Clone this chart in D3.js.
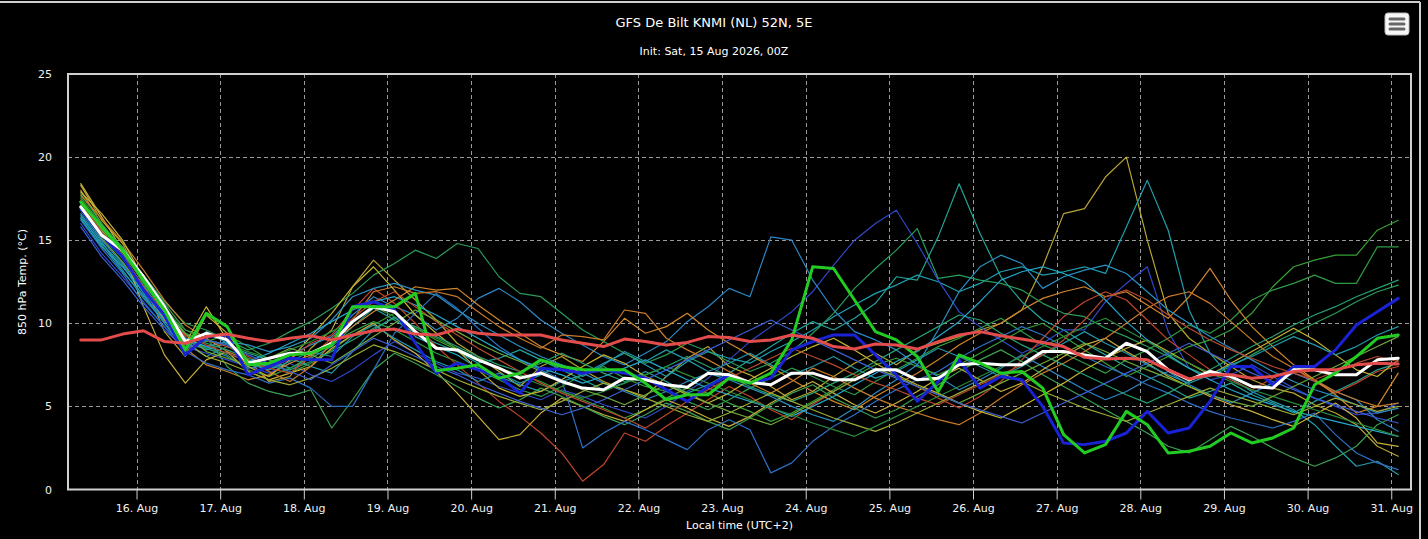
<!DOCTYPE html>
<html>
<head>
<meta charset="utf-8">
<script src="https://cdn.jsdelivr.net/npm/d3@7"></script>
<style>
  html, body { margin: 0; padding: 0; background: #000; }
  svg { display: block; font-family: "DejaVu Sans", Verdana, sans-serif; }
</style>
</head>
<body>
<div id="chart"></div>
<script>
"use strict";

// forecast steps: +6h .. +384h every 6h from 15 Aug 00Z (local = UTC+2)
var initLocal = Date.UTC(2026, 7, 15, 2);
var startHour = 6;
var stepHours = 6;
var yTicks = [0, 5, 10, 15, 20, 25];

var titleText = "GFS De Bilt KNMI (NL) 52N, 5E";
var subtitleText = "Init: Sat, 15 Aug 2026, 00Z";
var yTitle = "850 hPa Temp. (°C)";
var xTitle = "Local time (UTC+2)";

// ensemble mean (white)
var mean = [17.0,15.3,14.4,12.8,11.0,8.9,9.4,9.0, 7.6,7.9,8.2,8.2,8.8,10.1,11.0,10.7,
  9.5,8.5,8.4,7.8,7.3,6.7,7.0,6.5, 6.1,6.0,6.7,6.6,6.3,6.15,7.0,6.9,
  6.45,6.3,7.0,7.0,6.6,6.6,7.2,7.2, 6.6,6.7,7.5,7.6,7.5,7.5,8.3,8.3,
  8.1,7.9,8.8,8.3,7.2,6.6,7.1,6.8, 6.2,6.1,7.2,7.2,6.9,6.9,7.8,7.9];

// control run (blue)
var control = [16.9,15.3,14.0,12.0,10.5,8.1,9.2,9.3, 6.9,7.4,7.9,7.8,7.8,11.0,11.3,10.8,
  8.8,7.0,7.6,7.2,6.8,5.8,7.3,7.2, 7.0,7.2,7.0,6.7,6.0,5.3,6.2,6.9,
  6.4,6.7,8.4,8.9,9.3,9.3,8.1,6.9, 5.3,6.5,7.8,6.1,6.8,6.6,5.0,2.8,
  2.7,2.9,3.4,4.7,3.4,3.7,5.3,7.4, 7.4,6.3,7.4,7.4,8.4,9.9,10.7,11.5];

// operational run (green)
var operational = [17.3,15.8,14.4,12.6,10.8,8.4,10.6,9.8, 7.5,7.6,8.1,8.2,8.7,11.0,11.0,11.0,
  11.8,7.15,7.3,7.5,6.7,7.0,7.8,7.4, 7.2,7.2,7.2,6.4,5.4,5.7,5.7,6.7,
  6.4,7.0,9.0,13.4,13.3,11.4,9.5,9.0, 8.0,5.9,8.1,7.6,7.0,7.1,6.1,3.3,
  2.2,2.7,4.7,3.9,2.2,2.3,2.6,3.4, 2.8,3.1,3.7,6.3,7.0,8.0,9.1,9.3];

// climatology (red)
var climate = [9.0,9.0,9.35,9.55,8.9,8.8,9.2,9.35, 9.1,8.9,9.1,9.25,9.0,9.3,9.55,9.65,
  9.35,9.3,9.65,9.4,9.3,9.3,9.3,9.0, 8.8,8.6,9.05,8.9,8.7,8.85,9.2,9.15,
  8.9,9.0,9.3,9.1,8.6,8.45,8.75,8.7, 8.45,8.9,9.3,9.5,9.25,9.05,8.85,8.6,
  7.95,7.85,7.9,7.8,7.2,6.65,6.9,6.9, 6.7,6.8,7.1,7.2,7.2,7.5,7.6,7.55];

// perturbed members (thin lines)
var members = [
  [18.3,16.2,14.8,12.5,9.5,8.0,10.5,9.4, 7.8,6.5,6.8,8.5,9.6,12.2,13.8,12.6,
   11.4,10.2,8.8,8.0,7.1,6.2,7.4,8.0, 7.2,6.5,6.0,5.6,6.8,7.9,8.6,7.4,
   6.9,6.2,5.4,5.9,6.8,7.6,8.2,7.5, 8.4,8.8,9.2,9.6,10.0,10.8,13.4,16.6,
   16.9,18.8,20.0,15.0,10.6,9.1,8.2,7.4, 6.6,6.1,5.8,5.1,4.6,3.9,2.6,2.0],
  [17.0,15.4,14.0,12.2,10.6,9.0,8.4,8.8, 7.6,7.2,7.9,7.4,7.0,8.3,9.6,10.4,
   9.2,8.6,8.1,7.3,6.8,6.3,5.9,6.5, 6.9,7.6,8.2,7.5,6.8,7.7,8.3,7.9,
   7.6,8.3,8.9,9.6,10.4,11.1,11.8,12.3, 12.9,12.5,11.9,12.4,13.1,13.4,12.9,13.1,
   13.4,13.0,15.8,18.6,15.6,10.8,8.2,6.7, 5.9,5.3,4.8,3.9,2.6,1.4,1.7,0.9],
  [16.4,14.8,13.5,11.6,10.2,8.8,8.0,8.6, 8.2,7.8,7.3,7.9,8.6,9.8,10.9,10.2,
   9.4,8.8,8.3,7.6,7.9,8.4,7.8,7.2, 6.6,6.0,6.4,7.1,6.5,5.8,6.3,7.0,
   7.8,8.6,9.4,10.1,9.6,10.3,11.2,12.8, 12.6,15.2,18.4,15.4,12.8,11.3,10.2,9.6,
   8.8,8.1,7.4,6.8,6.2,5.5,5.9,6.4, 5.7,5.2,4.6,5.3,5.9,6.5,7.2,7.6],
  [16.0,14.2,12.8,11.3,9.8,8.6,8.2,7.8, 7.4,7.0,7.6,6.9,6.5,7.2,8.1,8.9,
   8.2,7.6,7.0,6.7,6.2,5.8,5.4,6.0, 5.6,5.1,4.7,4.3,5.0,5.9,6.7,7.8,
   8.9,9.8,10.7,11.9,13.5,15.0,16.0,16.8, 14.8,12.6,10.7,9.8,9.0,8.2,8.8,9.6,
   9.6,11.3,12.4,13.4,9.5,7.3,6.6,6.9, 7.5,6.8,6.1,5.5,5.0,4.5,4.6,5.2],
  [16.8,15.0,13.6,11.8,10.0,8.7,8.5,8.0, 7.3,7.5,8.1,8.7,9.2,10.5,11.6,11.0,
   10.5,9.6,10.3,11.5,12.1,11.3,10.2,9.4, 8.7,8.0,7.5,8.2,8.9,10.1,11.0,12.1,
   11.6,15.2,15.0,12.6,10.8,9.5,9.0,8.4, 7.5,6.8,6.0,6.6,7.3,8.1,7.4,6.7,
   6.0,5.4,5.9,6.6,7.1,6.3,5.7,5.2, 5.8,6.4,7.0,6.5,5.9,5.4,4.2,3.5],
  [17.6,15.9,14.3,12.4,11.0,9.4,8.9,9.3, 8.6,7.8,7.0,7.6,8.4,9.3,9.9,10.6,
   9.7,9.0,8.4,7.8,7.3,6.9,6.5,5.9, 5.4,4.9,4.3,4.8,5.5,6.1,5.8,5.2,
   4.7,4.1,4.6,5.3,6.0,6.8,7.5,7.9, 7.4,6.9,7.5,8.2,8.9,9.6,10.0,9.2,
   8.4,7.6,6.8,7.4,8.0,8.6,9.0,9.6, 10.6,12.2,13.4,13.8,14.1,14.1,15.6,16.2],
  [17.0,15.5,14.1,12.0,10.3,9.1,8.5,8.1, 7.2,6.8,7.3,8.0,8.8,9.5,10.1,9.6,
   8.9,8.2,7.7,7.2,6.6,6.0,5.6,6.2, 6.9,7.4,6.7,6.2,5.9,5.3,4.8,5.4,
   6.1,6.7,7.3,6.8,6.2,5.7,6.5,7.2, 7.9,8.6,9.1,9.7,10.3,9.5,8.7,8.2,
   7.6,7.0,7.8,8.4,9.1,9.9,9.4,10.2, 11.4,12.0,12.4,12.9,12.4,12.4,14.6,14.6],
  [17.4,15.6,14.6,12.6,10.4,9.2,9.0,8.6, 8.0,7.4,7.8,8.8,9.3,10.8,12.1,11.2,
   10.0,8.6,7.5,6.4,5.3,4.4,3.4,2.2, 0.5,1.5,3.4,2.9,3.8,4.6,5.4,6.2,
   5.6,4.8,4.2,5.1,5.9,6.6,7.3,6.8, 6.2,5.5,4.9,5.6,6.5,7.8,9.1,10.4,
   11.3,11.9,11.4,10.2,9.0,8.1,7.2,6.6, 6.0,6.7,7.3,6.5,5.8,6.4,7.1,7.4],
  [18.0,16.0,14.2,12.0,10.2,8.5,7.5,7.1, 6.6,6.9,7.6,8.1,8.9,9.8,10.7,11.4,
   12.2,12.0,12.1,11.1,10.2,9.4,8.6,8.1, 7.7,8.9,10.3,9.4,9.8,10.6,9.6,8.8,
   8.1,7.4,6.6,5.9,5.3,4.8,5.6,6.3, 7.0,7.8,8.7,9.4,10.0,10.8,11.5,11.9,
   12.2,11.6,11.9,11.1,10.3,11.6,13.3,11.4, 9.8,8.6,7.5,6.6,5.7,4.6,5.0,7.0],
  [18.4,16.4,14.4,11.0,8.1,6.4,7.8,8.3, 7.1,6.6,7.0,7.4,8.5,9.3,10.0,9.0,
   8.2,7.1,5.8,4.4,3.0,3.3,4.6,5.5, 5.0,4.5,4.1,4.8,5.4,4.9,4.3,3.8,
   4.4,5.2,5.9,6.5,5.8,5.1,4.6,5.2, 5.9,6.7,7.3,6.6,5.9,6.4,7.2,8.0,
   8.7,9.1,8.3,7.6,6.8,6.2,5.6,5.1, 4.7,4.2,3.8,4.5,5.2,4.3,2.8,2.6],
  [17.2,15.8,14.6,12.8,11.2,9.6,9.2,7.4, 6.4,5.9,5.6,6.0,3.7,5.4,7.2,8.2,
   7.6,6.9,6.2,5.5,4.9,5.4,6.1,5.6, 5.0,4.4,3.9,4.5,5.2,4.7,4.1,3.6,
   4.3,5.1,5.8,6.3,5.5,4.9,4.3,4.8, 5.6,6.3,7.1,7.8,8.4,7.7,6.9,6.2,
   5.5,4.8,4.1,3.4,2.6,2.2,3.0,3.8, 3.2,2.5,1.9,1.4,1.9,2.6,3.9,4.5],
  [17.8,16.0,14.5,12.9,11.3,10.0,9.6,9.0, 8.4,8.8,9.5,10.1,10.9,11.8,12.9,13.6,
   14.4,13.9,14.8,14.5,12.8,11.8,11.6,10.6, 9.6,8.9,8.2,7.6,8.1,8.8,8.3,7.7,
   7.1,7.6,8.3,9.4,10.6,12.1,13.3,14.4, 15.7,12.7,12.9,12.6,12.4,12.0,11.2,10.6,
   10.4,9.7,9.2,8.6,8.0,7.3,6.8,7.4, 8.1,8.8,9.4,10.0,10.6,11.3,11.9,12.3],
  [16.2,14.5,13.0,11.2,9.8,8.3,7.6,7.2, 6.9,6.4,6.7,6.1,5.0,5.0,7.2,9.4,
   10.6,11.8,10.9,9.7,8.6,7.8,7.2,6.6, 2.5,3.4,4.1,3.6,3.0,2.4,3.6,4.2,
   3.6,1.0,1.6,2.9,3.8,4.5,5.3,6.0, 6.6,7.1,7.9,8.6,9.2,9.8,9.3,8.6,
   8.0,7.4,6.9,6.3,5.8,5.2,4.7,4.3, 4.0,3.7,4.1,4.6,3.3,2.2,1.6,1.2],
  [16.6,14.9,13.2,11.5,10.1,9.0,8.6,8.9, 8.7,8.3,8.6,9.1,10.2,11.6,12.1,12.4,
   12.0,11.7,10.8,10.0,9.3,8.6,8.0,7.5, 7.0,6.4,5.9,5.4,5.9,6.5,7.0,6.6,
   6.1,5.6,5.0,4.5,4.1,4.9,5.8,6.6, 7.5,9.6,11.9,13.4,14.1,13.6,12.1,12.8,
   13.2,13.5,13.0,11.9,10.8,10.0,9.2,8.5, 7.8,7.1,6.5,6.0,5.6,5.1,4.6,4.9],
  [17.7,16.3,14.9,13.2,11.4,9.9,9.1,8.3, 7.8,7.1,6.5,7.4,8.8,10.2,11.9,12.2,
   11.8,11.9,11.6,10.7,9.8,9.1,8.5,9.3, 9.2,9.0,10.8,10.6,9.1,8.4,7.8,7.1,
   6.4,5.8,6.5,7.3,6.8,6.1,5.5,5.0, 4.6,4.2,3.9,4.6,5.5,6.3,7.0,7.6,
   8.3,9.1,10.0,10.9,11.6,11.9,11.2,10.1, 9.0,8.0,7.3,6.6,5.9,5.4,5.0,5.2],
  [17.9,16.6,15.0,12.7,10.6,8.8,11.0,9.0, 7.4,6.8,7.8,9.2,10.6,12.2,13.4,12.0,
   10.5,9.4,8.4,7.2,6.1,5.6,5.9,6.6, 7.4,8.1,7.6,6.8,6.3,5.7,5.2,5.8,
   6.6,7.3,8.0,8.6,9.1,8.4,7.6,6.9, 6.3,5.8,5.2,4.7,4.3,5.0,5.7,6.4,
   7.2,7.9,8.5,9.0,8.3,7.6,6.9,7.6, 8.3,9.0,9.7,9.0,8.1,7.2,6.8,7.8],
  [16.9,15.2,13.9,12.3,10.9,9.3,8.8,8.4, 7.9,7.4,7.2,7.7,8.3,9.0,9.7,10.3,
   9.8,9.2,8.6,8.0,7.5,7.1,7.6,8.2, 7.6,7.0,6.5,6.9,7.4,8.0,7.4,6.8,
   6.2,5.7,5.3,5.8,6.4,7.0,7.7,8.4, 9.1,9.8,10.5,10.2,9.4,8.7,8.1,7.5,
   6.9,6.3,5.7,5.2,5.8,6.5,7.2,7.9, 8.6,9.2,9.9,10.5,11.0,11.6,12.1,12.6],
  [16.3,14.6,13.4,11.9,10.3,9.1,8.6,8.2, 7.7,8.2,8.8,9.4,10.1,10.8,11.3,11.6,
   11.1,10.5,9.8,9.1,8.4,7.8,7.3,6.9, 6.4,6.8,7.3,7.8,7.2,6.6,6.1,5.7,
   5.3,4.9,4.4,5.0,5.6,6.3,7.0,7.7, 8.3,9.2,10.1,11.3,12.6,13.1,13.4,13.0,
   12.5,11.4,10.1,9.0,8.1,7.3,6.6,6.0, 5.5,5.1,4.7,4.4,4.1,3.8,3.5,3.2],
  [17.1,15.6,14.0,12.1,10.5,8.9,8.0,7.6, 7.1,6.6,6.3,6.7,7.3,8.0,8.7,8.3,
   7.8,7.2,6.6,6.1,5.6,5.2,4.8,5.3, 5.9,6.4,6.0,5.5,5.0,4.5,4.1,4.6,
   5.2,5.8,5.3,4.8,4.3,3.9,3.5,4.0, 4.6,5.2,5.8,6.4,7.0,6.5,5.9,5.4,
   4.9,4.5,4.1,4.6,5.1,5.6,6.1,5.7, 5.3,4.9,4.5,5.0,5.5,5.1,4.7,5.0],
  [17.5,15.7,14.2,12.5,10.8,9.6,9.0,8.7, 8.3,7.9,8.4,8.9,9.5,10.2,11.0,10.4,
   9.7,9.1,8.5,7.9,7.3,6.8,6.3,5.9, 5.5,5.9,6.4,6.9,7.4,6.9,6.4,5.9,
   5.4,4.9,4.5,4.0,3.6,3.2,3.8,4.4, 5.0,5.6,6.2,6.8,7.4,8.0,8.6,9.2,
   9.8,10.3,9.6,8.9,8.2,7.6,7.0,6.5, 6.0,5.6,5.2,4.8,4.4,4.0,3.6,3.2],
  [16.5,14.7,13.1,11.7,10.0,8.4,9.5,8.8, 7.6,7.2,7.7,8.3,8.0,9.2,9.9,9.1,
   8.4,7.7,7.2,6.5,7.0,6.4,6.9,7.5, 6.8,7.5,8.3,7.7,8.4,7.8,7.1,7.6,
   8.2,7.5,6.9,7.4,8.0,7.3,6.7,7.1, 7.8,8.5,8.0,7.4,6.8,7.4,8.1,8.8,
   9.5,8.8,8.2,7.5,6.9,6.4,6.9,7.5, 8.0,8.6,9.2,8.7,8.1,8.6,9.3,9.8],
  [17.3,15.5,14.1,12.2,10.4,9.3,8.7,8.2, 7.7,7.3,7.0,8.0,9.1,10.3,11.3,11.9,
   11.0,10.1,9.3,8.5,7.8,7.1,6.4,5.8, 5.3,4.8,4.3,3.7,4.5,5.3,6.0,6.7,
   7.3,7.9,8.5,8.0,7.5,6.9,6.4,6.0, 5.5,5.1,5.7,6.3,6.9,7.5,8.1,9.0,
   10.2,11.6,12.0,11.4,10.5,9.7,9.0,8.4, 7.9,7.4,7.0,6.6,7.1,7.6,8.0,7.7],
  [17.0,15.1,13.7,12.0,10.7,9.4,8.3,7.9, 7.5,7.9,8.5,8.1,7.6,8.4,9.2,10.0,
   10.8,10.2,9.5,8.8,8.2,7.7,7.1,6.5, 6.0,5.6,5.1,5.7,6.3,5.8,5.2,4.7,
   4.3,3.9,4.5,5.2,5.9,6.6,7.3,6.8, 6.2,5.7,5.2,5.8,6.4,7.0,7.6,8.2,
   8.8,8.3,7.7,7.2,6.7,6.2,5.7,5.3, 5.0,5.6,6.2,6.8,7.4,8.0,8.6,9.2],
  [15.8,14.0,12.6,11.0,9.6,8.5,9.0,8.7, 8.1,7.6,7.1,6.6,7.5,8.3,9.1,8.6,
   8.0,7.4,6.9,6.3,5.8,5.3,4.9,4.5, 4.9,5.4,6.0,6.6,7.2,7.8,8.4,9.0,
   9.6,10.2,9.6,9.0,8.4,7.8,7.2,6.7, 6.2,5.7,5.2,4.8,4.4,4.0,4.6,5.2,
   5.8,6.4,7.0,7.6,8.2,8.8,8.2,7.6, 7.0,6.5,6.0,5.5,5.1,4.7,4.3,4.0]
];

var memberColors = ["#b8a531", "#1f9fb0", "#22a39a", "#2f47c8", "#2b86c4", "#37a035",
  "#2e9a45", "#c0452a", "#d2862a", "#c9b03a", "#3aa050", "#289c5a",
  "#2d6fc5", "#2a8fc0", "#c97a2a", "#c4b530", "#25a070", "#25a5c8",
  "#9aab34", "#2a8a3c", "#2196a8", "#b84a2e", "#6ea83a", "#3a5fd0"];

var W = 1428, H = 539;
var plot = { left: 68, top: 74, right: 1411, bottom: 489.5 };

var svg = d3.select("#chart").append("svg")
  .attr("width", W)
  .attr("height", H);

svg.append("rect").attr("width", W).attr("height", H).attr("fill", "#000");

// outer frame (top and right edges visible in the reference)
svg.append("line").attr("x1", 0).attr("x2", 1420).attr("y1", 2).attr("y2", 2)
  .attr("stroke", "#cfcfcf").attr("stroke-width", 2);
svg.append("line").attr("x1", 1420).attr("x2", 1420).attr("y1", 2).attr("y2", H)
  .attr("stroke", "#cfcfcf").attr("stroke-width", 2);

var hour = 3600 * 1000;
var x = d3.scaleUtc()
  .domain([new Date(Date.UTC(2026, 7, 15, 4, 20)), new Date(Date.UTC(2026, 7, 31, 5, 40))])
  .range([plot.left, plot.right]);
var y = d3.scaleLinear().domain([0, 25]).range([plot.bottom, plot.top]);

function timeAt(i) {
  return new Date(initLocal + (startHour + i * stepHours) * hour);
}

// grid
var dayTicks = d3.utcDay.range(d3.utcDay.ceil(x.domain()[0]), x.domain()[1]);
var grid = svg.append("g").attr("stroke", "#9a9a9a").attr("stroke-width", 1)
  .attr("stroke-dasharray", "4,3");
grid.selectAll("line.v").data(dayTicks).enter().append("line")
  .attr("class", "v")
  .attr("x1", function(d) { return Math.round(x(d)) + 0.5; })
  .attr("x2", function(d) { return Math.round(x(d)) + 0.5; })
  .attr("y1", plot.top).attr("y2", plot.bottom);
grid.selectAll("line.h").data(yTicks.filter(function(t) { return t > 0 && t < 25; })).enter().append("line")
  .attr("class", "h")
  .attr("x1", plot.left).attr("x2", plot.right)
  .attr("y1", function(d) { return Math.round(y(d)) + 0.5; })
  .attr("y2", function(d) { return Math.round(y(d)) + 0.5; });

// series
svg.append("clipPath").attr("id", "plotclip").append("rect")
  .attr("x", plot.left).attr("y", plot.top)
  .attr("width", plot.right - plot.left).attr("height", plot.bottom - plot.top);

var line = d3.line()
  .x(function(d, i) { return x(timeAt(i)); })
  .y(function(d) { return y(d); });

var series = svg.append("g").attr("clip-path", "url(#plotclip)")
  .attr("fill", "none").attr("stroke-linejoin", "round").attr("stroke-linecap", "round");

series.selectAll("path.member").data(members).enter().append("path")
  .attr("class", "member")
  .attr("d", line)
  .attr("stroke", function(d, i) { return memberColors[i % memberColors.length]; })
  .attr("stroke-width", 1.2);

var mains = [
  { values: control, color: "#1a22d6", width: 3 },
  { values: mean, color: "#ffffff", width: 3 },
  { values: operational, color: "#22cc22", width: 3 },
  { values: climate, color: "#e44c4c", width: 3 }
];
series.selectAll("path.main").data(mains).enter().append("path")
  .attr("class", "main")
  .attr("d", function(d) { return line(d.values); })
  .attr("stroke", function(d) { return d.color; })
  .attr("stroke-width", function(d) { return d.width; });

// plot frame
svg.append("rect")
  .attr("x", plot.left).attr("y", plot.top)
  .attr("width", plot.right - plot.left).attr("height", plot.bottom - plot.top)
  .attr("fill", "none").attr("stroke", "#d0d0d0").attr("stroke-width", 2);

// x axis
var xAxis = d3.axisBottom(x)
  .tickValues(dayTicks)
  .tickFormat(d3.utcFormat("%-d. %b"))
  .tickSize(10)
  .tickPadding(5);
var gx = svg.append("g").attr("transform", "translate(0," + plot.bottom + ")").call(xAxis);
gx.select(".domain").remove();
gx.selectAll(".tick line").attr("stroke", "#d0d0d0").attr("stroke-width", 1);
gx.selectAll(".tick text").attr("fill", "#f0f0f0")
  .style("font-size", "11px").style("font-family", "DejaVu Sans, Verdana, sans-serif");

// y axis
var yAxis = d3.axisLeft(y).tickValues(yTicks).tickSize(0).tickPadding(16);
var gy = svg.append("g").attr("transform", "translate(" + plot.left + ",0)").call(yAxis);
gy.select(".domain").remove();
gy.selectAll(".tick text").attr("fill", "#f0f0f0")
  .style("font-size", "11px").style("font-family", "DejaVu Sans, Verdana, sans-serif");

// titles
svg.append("text").attr("x", 714).attr("y", 27).attr("text-anchor", "middle")
  .attr("fill", "#ffffff").style("font-size", "13px").text(titleText);
svg.append("text").attr("x", 714).attr("y", 55).attr("text-anchor", "middle")
  .attr("fill", "#ffffff").style("font-size", "11px").text(subtitleText);
svg.append("text")
  .attr("transform", "translate(26,282) rotate(-90)")
  .attr("text-anchor", "middle").attr("fill", "#ffffff")
  .style("font-size", "11px").text(yTitle);
svg.append("text").attr("x", (plot.left + plot.right) / 2).attr("y", 529)
  .attr("text-anchor", "middle").attr("fill", "#ffffff")
  .style("font-size", "11px").text(xTitle);

// export menu button
var btn = svg.append("g").attr("transform", "translate(1385,13)");
btn.append("rect").attr("width", 24).attr("height", 22).attr("rx", 3)
  .attr("fill", "#f7f7f7").attr("stroke", "#bbb").attr("stroke-width", 1);
btn.selectAll("line").data([6, 11, 16]).enter().append("line")
  .attr("x1", 5).attr("x2", 19)
  .attr("y1", function(d) { return d; }).attr("y2", function(d) { return d; })
  .attr("stroke", "#666").attr("stroke-width", 3).attr("stroke-linecap", "round");
</script>
</body>
</html>
